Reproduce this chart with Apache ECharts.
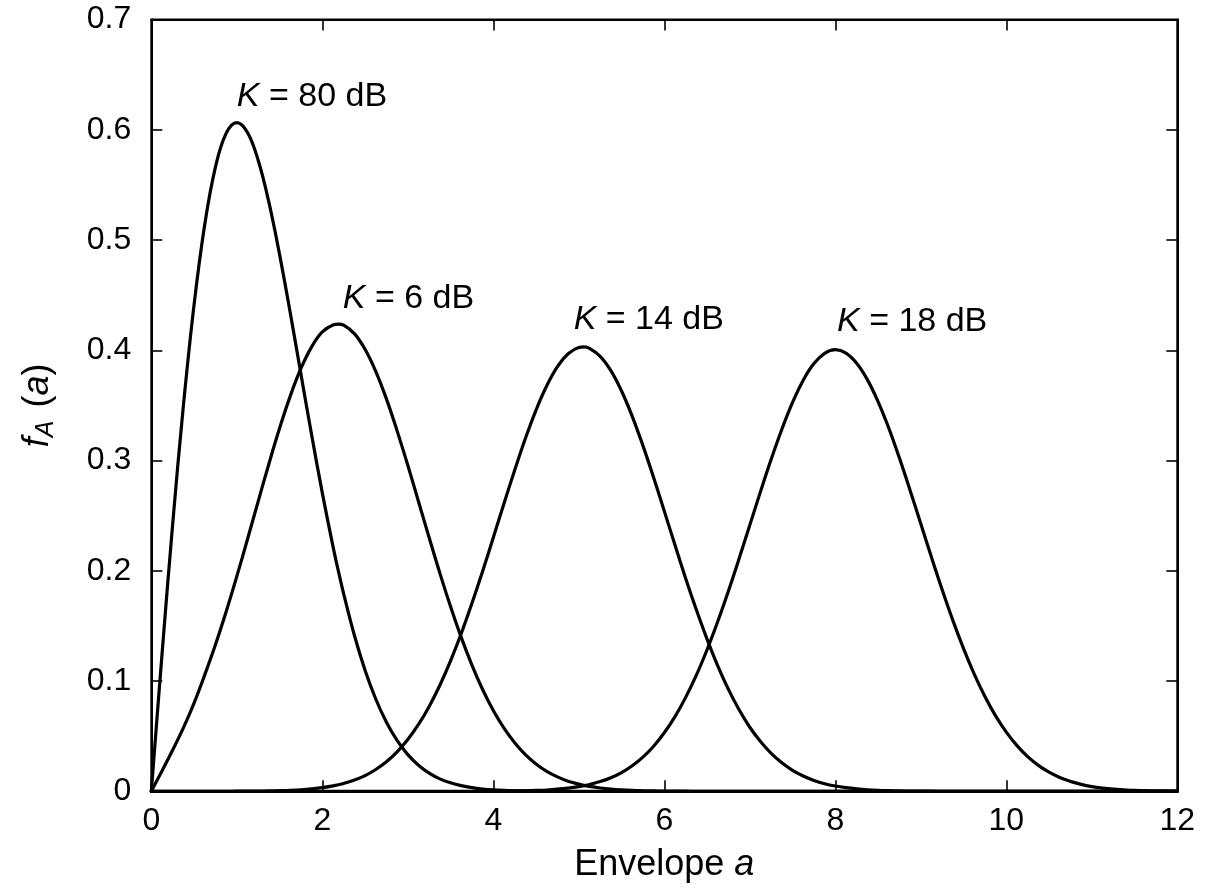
<!DOCTYPE html>
<html>
<head>
<meta charset="utf-8">
<title>Rician envelope densities</title>
<script src="https://cdn.jsdelivr.net/npm/echarts@6/dist/echarts.min.js"></script>
<style>
  html, body { margin: 0; padding: 0; background: #ffffff; }
  #chart { width: 1207px; height: 892px; }
</style>
</head>
<body>
<div id="chart"></div>
<script>
// Envelope samples (a) shared by every curve, one row per unit
// (two extra samples sit on the K = 6 dB and K = 14 dB maxima)
const envelope = [
  0, 0.125, 0.25, 0.375, 0.5, 0.625, 0.75, 0.875,
  1, 1.125, 1.25, 1.375, 1.5, 1.625, 1.75, 1.875,
  2, 2.125, 2.1875, 2.25, 2.375, 2.5, 2.625, 2.75, 2.875,
  3, 3.125, 3.25, 3.375, 3.5, 3.625, 3.75, 3.875,
  4, 4.125, 4.25, 4.375, 4.5, 4.625, 4.75, 4.875,
  5, 5.0625, 5.125, 5.25, 5.375, 5.5, 5.625, 5.75, 5.875,
  6, 6.125, 6.25, 6.375, 6.5, 6.625, 6.75, 6.875,
  7, 7.125, 7.25, 7.375, 7.5, 7.625, 7.75, 7.875,
  8, 8.125, 8.25, 8.375, 8.5, 8.625, 8.75, 8.875,
  9, 9.125, 9.25, 9.375, 9.5, 9.625, 9.75, 9.875,
  10, 10.125, 10.25, 10.375, 10.5, 10.625, 10.75, 10.875,
  11, 11.125, 11.25, 11.375, 11.5, 11.625, 11.75, 11.875,
  12
];

// f_A(a) for each Rice factor K
const densityK80 = [
  0, 0.1240, 0.2423, 0.3495, 0.4412, 0.5141, 0.5661, 0.5967,
  0.6065, 0.5975, 0.5723, 0.5343, 0.4870, 0.4340, 0.3785, 0.3233,
  0.2707, 0.2222, 0.1999, 0.1790, 0.1415, 0.1098, 0.0837, 0.0627, 0.0461,
  0.0333, 0.0237, 0.0165, 0.0113, 0.0077, 0.0051, 0.0033, 0.0021,
  0.0013, 0.0008, 0.0005, 0.0003, 0.0002, 0.0001, 0.0001, 0,
  0, 0, 0, 0, 0, 0, 0, 0, 0,
  0, 0, 0, 0, 0, 0, 0, 0,
  0, 0, 0, 0, 0, 0, 0, 0,
  0, 0, 0, 0, 0, 0, 0, 0,
  0, 0, 0, 0, 0, 0, 0, 0,
  0, 0, 0, 0, 0, 0, 0, 0,
  0, 0, 0, 0, 0, 0, 0, 0,
  0
];
const densityK6 = [
  0, 0.0185, 0.0375, 0.0575, 0.0800, 0.1056, 0.1329, 0.1628,
  0.1949, 0.2286, 0.2630, 0.2969, 0.3292, 0.3584, 0.3835, 0.4031,
  0.4166, 0.4230, 0.4237, 0.4227, 0.4151, 0.4009, 0.3809, 0.3559, 0.3269,
  0.2957, 0.2628, 0.2300, 0.1979, 0.1676, 0.1396, 0.1145, 0.0923,
  0.0732, 0.0572, 0.0440, 0.0333, 0.0248, 0.0181, 0.0131, 0.0092,
  0.0065, 0.0054, 0.0044, 0.0030, 0.0020, 0.0013, 0.0008, 0.0005, 0.0003,
  0.0002, 0.0001, 0.0001, 0, 0, 0, 0, 0,
  0, 0, 0, 0, 0, 0, 0, 0,
  0, 0, 0, 0, 0, 0, 0, 0,
  0, 0, 0, 0, 0, 0, 0, 0,
  0, 0, 0, 0, 0, 0, 0, 0,
  0, 0, 0, 0, 0, 0, 0, 0,
  0
];
const densityK14 = [
  0, 0, 0, 0, 0, 0, 0, 0,
  0.0001, 0.0001, 0.0002, 0.0004, 0.0006, 0.0009, 0.0014, 0.0022,
  0.0033, 0.0049, 0.0059, 0.0071, 0.0102, 0.0142, 0.0198, 0.0268, 0.0358,
  0.0470, 0.0606, 0.0770, 0.0962, 0.1183, 0.1431, 0.1705, 0.1996,
  0.2301, 0.2610, 0.2912, 0.3199, 0.3458, 0.3678, 0.3852, 0.3968,
  0.4025, 0.4030, 0.4017, 0.3945, 0.3815, 0.3631, 0.3401, 0.3135, 0.2845,
  0.2541, 0.2233, 0.1931, 0.1646, 0.1380, 0.1138, 0.0924, 0.0739,
  0.0581, 0.0451, 0.0344, 0.0258, 0.0190, 0.0139, 0.0099, 0.0069,
  0.0048, 0.0033, 0.0022, 0.0014, 0.0009, 0.0006, 0.0004, 0.0002,
  0.0001, 0.0001, 0, 0, 0, 0, 0, 0,
  0, 0, 0, 0, 0, 0, 0, 0,
  0, 0, 0, 0, 0, 0, 0, 0,
  0
];
const densityK18 = [
  0, 0, 0, 0, 0, 0, 0, 0,
  0, 0, 0, 0, 0, 0, 0, 0,
  0, 0, 0, 0, 0, 0, 0, 0, 0,
  0, 0, 0, 0, 0, 0, 0, 0.0001,
  0.0001, 0.0002, 0.0003, 0.0005, 0.0008, 0.0012, 0.0019, 0.0029,
  0.0042, 0.0051, 0.0061, 0.0088, 0.0123, 0.0170, 0.0232, 0.0310, 0.0409,
  0.0531, 0.0677, 0.0852, 0.1053, 0.1284, 0.1540, 0.1817, 0.2111,
  0.2414, 0.2718, 0.3011, 0.3284, 0.3527, 0.3729, 0.3879, 0.3972,
  0.4005, 0.3975, 0.3883, 0.3734, 0.3535, 0.3295, 0.3022, 0.2729,
  0.2426, 0.2122, 0.1828, 0.1550, 0.1294, 0.1063, 0.0860, 0.0684,
  0.0537, 0.0414, 0.0314, 0.0235, 0.0173, 0.0125, 0.0090, 0.0063,
  0.0043, 0.0029, 0.0019, 0.0013, 0.0008, 0.0006, 0.0003, 0.0003,
  0.0002
];

// Curve annotations: text and the (a, f) point where each starts
const curveLabels = ['80 dB', '6 dB', '14 dB', '18 dB'];
const labelA = [1.0, 2.24, 4.94, 8.02];
const labelF = [0.630, 0.447, 0.428, 0.426];

const FONT = '"Liberation Sans", Arial, sans-serif';
const TICK_SIZE = 32;
const NAME_SIZE = 36;
const NOTE_SIZE = 34;
const INK = '#000000';

const pairs = ys => envelope.map((a, i) => [a, ys[i]]);

function curve(name, ys) {
  return {
    name: name,
    type: 'line',
    data: pairs(ys),
    smooth: 0.4,
    showSymbol: false,
    symbol: 'none',
    clip: false,
    lineStyle: { color: INK, width: 3.2, cap: 'round', join: 'round' },
    itemStyle: { color: INK },
    emphasis: { disabled: true },
    z: 3
  };
}

const plain = size => ({ fontFamily: FONT, fontSize: size, color: INK, textBorderWidth: 0 });
const italic = size => Object.assign(plain(size), { fontStyle: 'italic' });

const frameLine = { show: true, onZero: false, lineStyle: { color: INK, width: 2 } };
const innerTick = { show: true, inside: true, length: 11, lineStyle: { color: INK, width: 1.6 } };

const chart = echarts.init(document.getElementById('chart'), null, { renderer: 'canvas' });

chart.setOption({
  animation: false,
  backgroundColor: '#ffffff',
  textStyle: { fontFamily: FONT, color: INK },
  grid: {
    left: 151.3, right: 29.7, top: 19.5, bottom: 100.7,
    show: true, borderColor: INK, borderWidth: 2, backgroundColor: 'transparent'
  },
  xAxis: [
    {
      type: 'value', min: 0, max: 12, interval: 2, position: 'bottom',
      axisLine: frameLine, axisTick: innerTick, splitLine: { show: false },
      axisLabel: Object.assign(plain(TICK_SIZE), { margin: 14 }),
      name: '{n|Envelope }{it|a}',
      nameLocation: 'middle',
      nameGap: 56,
      nameTextStyle: Object.assign(plain(NAME_SIZE), {
        rich: { n: plain(NAME_SIZE), it: italic(NAME_SIZE) }
      })
    },
    {
      type: 'value', min: 0, max: 12, interval: 2, position: 'top',
      axisLine: frameLine, axisTick: innerTick, splitLine: { show: false },
      axisLabel: { show: false }
    }
  ],
  yAxis: [
    {
      type: 'value', min: 0, max: 0.7, interval: 0.1, position: 'left',
      axisLine: frameLine, axisTick: innerTick, splitLine: { show: false },
      axisLabel: Object.assign(plain(TICK_SIZE), { margin: 20 }),
      name: '{it|f}{sub|A} {n|(}{it|a}{n|)}',
      nameLocation: 'middle',
      nameGap: 92,
      nameRotate: 90,
      nameTextStyle: Object.assign(plain(NAME_SIZE), {
        rich: {
          n: Object.assign(plain(NAME_SIZE), { lineHeight: 42 }),
          it: Object.assign(italic(NAME_SIZE), { lineHeight: 42 }),
          sub: Object.assign(italic(25), { lineHeight: 42, padding: [15, 3, 0, 0] })
        }
      })
    },
    {
      type: 'value', min: 0, max: 0.7, interval: 0.1, position: 'right',
      axisLine: frameLine, axisTick: innerTick, splitLine: { show: false },
      axisLabel: { show: false }
    }
  ],
  series: [
    curve('K = 80 dB', densityK80),
    curve('K = 6 dB', densityK6),
    curve('K = 14 dB', densityK14),
    curve('K = 18 dB', densityK18),
    {
      name: 'labels',
      type: 'scatter',
      symbolSize: 0,
      silent: true,
      clip: false,
      data: labelA.map((a, i) => [a, labelF[i], curveLabels[i]]),
      label: Object.assign(plain(NOTE_SIZE), {
        show: true,
        position: 'right',
        distance: 0,
        opacity: 1,
        formatter: p => '{it|K} = ' + p.data[2],
        rich: { it: italic(NOTE_SIZE) }
      }),
      z: 5
    }
  ]
});
</script>
</body>
</html>
